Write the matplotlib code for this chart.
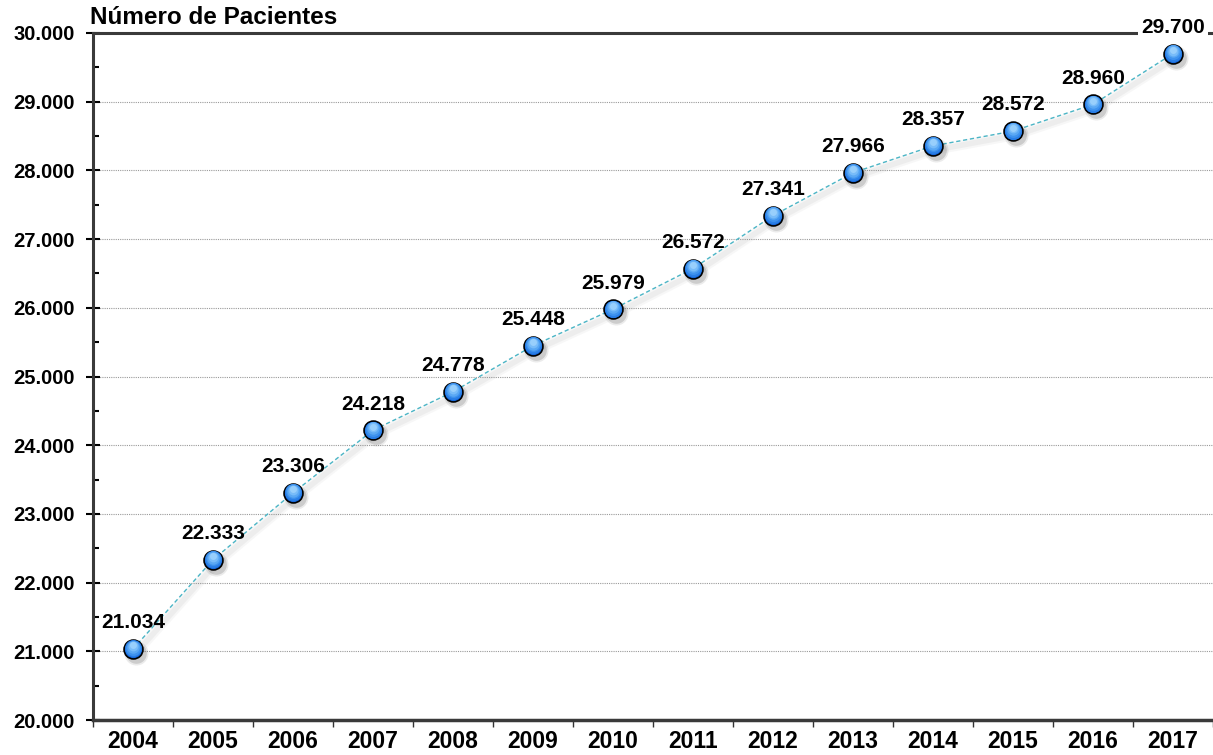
import matplotlib
matplotlib.use("Agg")
import matplotlib.pyplot as plt
import matplotlib.transforms as mtrans
from matplotlib.ticker import FixedLocator, FuncFormatter
import numpy as np

years = ["2004", "2005", "2006", "2007", "2008", "2009", "2010",
         "2011", "2012", "2013", "2014", "2015", "2016", "2017"]
patients = [21034, 22333, 23306, 24218, 24778, 25448, 25979,
            26572, 27341, 27966, 28357, 28572, 28960, 29700]

plt.rcParams['font.family'] = ['Liberation Sans', 'DejaVu Sans']

W, H = 1213, 755
fig = plt.figure(figsize=(W / 100, H / 100), dpi=100)
ax = fig.add_axes([93 / W, 1 - 720 / H, 1 - 93 / W, (720 - 33) / H])

x = np.arange(len(years))

def fmt(v):
    return f"{int(round(v)):,}".replace(",", ".")

def shift(dx, dy):
    return ax.transData + mtrans.ScaledTranslation(dx / 100, dy / 100, fig.dpi_scale_trans)

# soft shadow of line
for w, a in [(7, 0.06), (4, 0.08)]:
    ax.plot(x, patients, color="#808080", lw=w, alpha=a, solid_capstyle="round",
            transform=shift(3, -4), zorder=2)
ax.plot(x, patients, color="#4bb5c6", lw=1.0, ls=(0, (3, 2)), zorder=3)

# marker shadow
for s, a in [(300, 0.10), (220, 0.18)]:
    ax.scatter(x, patients, s=s, color="#404040", alpha=a, linewidths=0, zorder=4,
               transform=shift(3, -4))
# gradient-like marker
ax.scatter(x, patients, s=185, color="#1669dc", edgecolors="black", linewidths=1.2, zorder=5)
layers = [(150, "#2a7fe6", 0.6), (115, "#3f93ee", 1.4), (80, "#5aa8f4", 2.2),
          (50, "#78bcf9", 3.0), (25, "#98cffc", 3.6)]
for s, c, dy in layers:
    ax.scatter(x, patients, s=s, color=c, linewidths=0, zorder=6, transform=shift(0, dy))

for xi, v in zip(x, patients):
    ax.annotate(fmt(v), (xi, v), xytext=(0, 12), textcoords="offset points",
                ha="center", va="bottom", fontsize=15, fontweight="bold",
                bbox=dict(boxstyle="square,pad=0.15", fc="white", ec="none") if xi == len(x) - 1 else None,
                zorder=7, annotation_clip=False)

ax.set_xlim(-0.5, len(years) - 0.5)
ax.set_ylim(20000, 30000)

ax.yaxis.set_major_locator(FixedLocator(np.arange(20000, 30001, 1000)))
ax.yaxis.set_minor_locator(FixedLocator(np.arange(20500, 30000, 1000)))
ax.yaxis.set_major_formatter(FuncFormatter(lambda v, p: fmt(v)))
ax.tick_params(axis="y", which="major", direction="inout", length=10, width=1.5, labelsize=14.5, pad=8)
ax.tick_params(axis="y", which="minor", direction="in", length=4, width=1.5)
for lab in ax.get_yticklabels():
    lab.set_fontweight("bold")

ax.xaxis.set_major_locator(FixedLocator(np.arange(-0.5, len(years), 1.0)))
ax.xaxis.set_minor_locator(FixedLocator(x))
ax.xaxis.set_major_formatter(FuncFormatter(lambda v, p: ""))
ax.xaxis.set_minor_formatter(FuncFormatter(lambda v, p: years[int(round(v))] if 0 <= round(v) < len(years) else ""))
ax.tick_params(axis="x", which="major", direction="out", length=5, width=1.0, color="#333333")
ax.tick_params(axis="x", which="minor", length=0, labelsize=16.5, pad=7)
for lab in ax.get_xticklabels(minor=True):
    lab.set_fontweight("bold")

ax.grid(axis="y", which="major", color="#9a9a9a", ls=(0, (1, 1)), lw=0.8)
ax.set_axisbelow(True)

for side in ["left", "bottom", "top"]:
    ax.spines[side].set_color("#3a3a3a")
    ax.spines[side].set_linewidth(2.2)
ax.spines["right"].set_visible(False)
ax.spines["bottom"].set_linewidth(2.5)

fig.text(90 / W, 1 - 17 / H, "Número de Pacientes", fontsize=17.5, fontweight="bold",
         ha="left", va="center")

fig.savefig("out.png", dpi=100)
